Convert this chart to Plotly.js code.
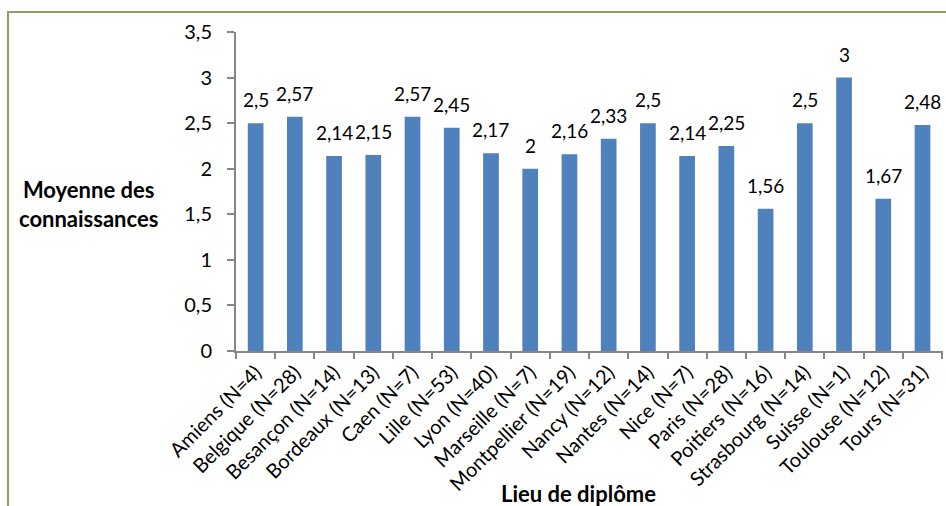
<!DOCTYPE html>
<html>
<head>
<meta charset="utf-8">
<script src="https://cdn.plot.ly/plotly-3.0.1.min.js"></script>
<style>
html,body{margin:0;padding:0;background:#fff;overflow:hidden;}
#frame{position:absolute;left:7px;top:11px;width:1200px;height:1200px;border:2px solid #9a9a64;box-sizing:border-box;}
#chart{position:absolute;left:0;top:0;width:946px;height:506px;}
</style>
</head>
<body>
<div id="frame"></div>
<div id="chart"></div>
<script>
var categories = ["Amiens (N=4)","Belgique (N=28)","Besançon (N=14)","Bordeaux (N=13)","Caen (N=7)","Lille (N=53)","Lyon (N=40)","Marseille (N=7)","Montpellier (N=19)","Nancy (N=12)","Nantes (N=14)","Nice (N=7)","Paris (N=28)","Poitiers (N=16)","Strasbourg (N=14)","Suisse (N=1)","Toulouse (N=12)","Tours (N=31)"];
var values = [2.5,2.57,2.14,2.15,2.57,2.45,2.17,2,2.16,2.33,2.5,2.14,2.25,1.56,2.5,3,1.67,2.48];
var yTickVals = [0,0.5,1,1.5,2,2.5,3,3.5];
var yTickText = ["0","0,5","1","1,5","2","2,5","3","3,5"];
var yTitle = "Moyenne des<br>connaissances";
var xTitle = "Lieu de diplôme";

var labels = values.map(function(v){return String(v).replace('.', ',');});
var font = "Lato, 'Open Sans', sans-serif";

var annotations = categories.map(function(c, i){
  return {x: c, y: values[i], xref: 'x', yref: 'y', text: labels[i], showarrow: false,
          xanchor: 'center', yanchor: 'bottom', yshift: 10,
          font: {family: font, size: 19, color: '#000'}};
});
annotations.push(
  {text: '<b>' + yTitle + '</b>', xref: 'paper', yref: 'paper', x: -0.208, y: 0.461,
   xanchor: 'center', yanchor: 'middle', showarrow: false, align: 'center',
   font: {family: font, size: 22, color: '#000'}},
  {text: '<b>' + xTitle + '</b>', xref: 'paper', yref: 'paper', x: 0.484, y: -0.447,
   xanchor: 'center', yanchor: 'middle', showarrow: false,
   font: {family: font, size: 22, color: '#000'}}
);

Plotly.newPlot('chart', [{
  type: 'bar',
  x: categories,
  y: values,
  cliponaxis: false,
  marker: {color: '#4f81bd'},
  hoverinfo: 'none'
}], {
  width: 946, height: 506,
  margin: {l: 236, r: 3, t: 32, b: 155, pad: 0},
  paper_bgcolor: 'rgba(0,0,0,0)',
  plot_bgcolor: 'rgba(0,0,0,0)',
  bargap: 0.6,
  showlegend: false,
  font: {family: font, size: 16, color: '#000'},
  separators: ', ',
  xaxis: {
    type: 'category',
    tickangle: -45,
    tickson: 'boundaries',
    ticks: 'outside', ticklen: 6, tickcolor: '#868686', tickwidth: 2,
    showline: true, linecolor: '#868686', linewidth: 2,
    showgrid: false, zeroline: false,
    tickfont: {family: font, size: 20, color: '#000'}
  },
  yaxis: {
    range: [0, 3.5],
    tickvals: yTickVals, ticktext: yTickText,
    ticks: 'outside', ticklen: 7, tickcolor: '#868686', tickwidth: 2,
    ticklabelstandoff: 11,
    showline: true, linecolor: '#868686', linewidth: 2,
    showgrid: false, zeroline: false,
    tickfont: {family: font, size: 20, color: '#000'}
  },
  annotations: annotations
}, {displayModeBar: false, staticPlot: true});
</script>
</body>
</html>
